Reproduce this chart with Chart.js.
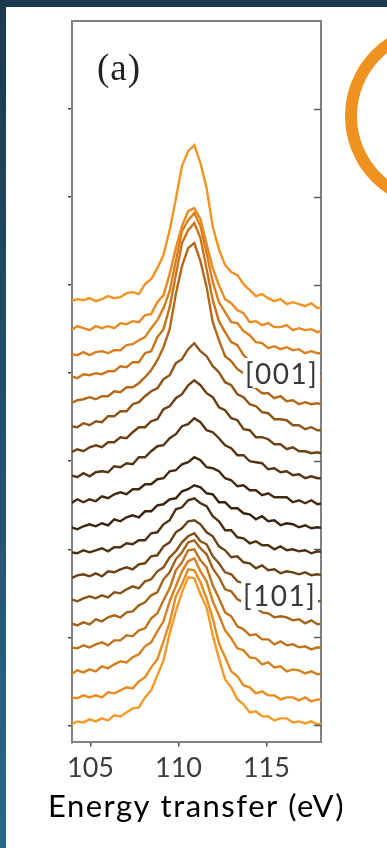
<!DOCTYPE html>
<html><head><meta charset="utf-8">
<script src="https://cdn.jsdelivr.net/npm/chart.js@4.4.1/dist/chart.umd.min.js"></script>
<style>
html,body{margin:0;padding:0;width:387px;height:848px;overflow:hidden;}
body{background:linear-gradient(to bottom,#1b3a4f 0%,#22506c 50%,#2b6689 100%);position:relative;}
#panel{position:absolute;left:6px;top:7px;width:381px;height:841px;background:#fff;}
#c{position:absolute;left:6px;top:7px;}
.lbl{position:absolute;background:#fff;color:#383838;font-family:Lato,sans-serif;font-size:28px;line-height:30px;padding:0 2px;letter-spacing:1.5px;white-space:nowrap;}
#ring{position:absolute;left:345px;top:23px;width:186px;height:186px;box-sizing:border-box;border:12px solid #f0921f;border-radius:50%;}
#pa{position:absolute;left:97px;top:49px;font-family:"Liberation Serif",serif;font-size:37px;line-height:37px;letter-spacing:1px;color:#222;}
</style></head>
<body>
<div id="panel"></div>
<canvas id="c" width="381" height="841"></canvas>
<div id="ring"></div>
<div id="pa">(a)</div>
<div class="lbl" style="left:243px;top:358px;">[001]</div>
<div class="lbl" style="left:241px;top:580px;">[101]</div>
<script>
const energies = [103.9,104.25,104.6,104.95,105.3,105.65,106.0,106.35,106.7,107.05,107.4,107.75,108.1,108.45,108.8,109.15,109.5,109.85,110.2,110.55,110.9,111.25,111.6,111.95,112.3,112.65,113.0,113.35,113.7,114.05,114.4,114.75,115.1,115.45,115.8,116.15,116.5,116.85,117.2,117.55,117.9,118.25];
const xTicks = [105,110,115];
const yTicks = [17,105,193,281,369,457,545,633];

const s01 = [441,443,442,444,441,443,446,444,445,449,450,448,458,463,474,487,512,543,576,591,597,579,554,515,493,477,470,467,458,452,446,448,444,441,443,438,440,438,436,439,434,435];
const s02 = [412,416,414,412,416,414,416,414,419,418,421,420,427,428,440,447,468,494,516,531,534,523,498,474,457,443,439,432,429,420,421,417,419,415,415,417,412,414,412,413,410,412];
const s03 = [388,387,390,387,390,391,389,392,392,397,398,402,405,414,422,434,451,481,511,522,529,516,489,460,440,430,420,419,411,407,400,399,394,396,393,395,392,393,389,391,389,389];
const s04 = [366,364,368,367,369,368,371,371,376,375,380,380,389,391,405,413,435,467,499,512,519,504,473,442,421,410,400,397,387,381,375,375,370,370,365,368,365,367,363,365,362,362];
const s05 = [339,342,343,345,343,346,346,351,350,355,355,359,365,372,382,395,413,448,476,494,499,481,455,420,402,386,381,373,369,356,354,349,349,344,346,341,342,338,340,338,339,337];
const s06 = [316,315,319,317,321,320,326,326,331,331,338,340,346,351,354,363,367,379,383,393,399,391,386,376,370,360,357,348,345,338,336,330,329,323,323,322,317,317,313,315,312,312];
const s07 = [290,293,291,295,297,295,300,300,305,304,310,315,315,321,323,333,336,344,348,357,362,357,349,345,335,332,324,322,313,312,305,305,303,298,298,293,295,291,291,289,290,288];
const s08 = [267,265,269,266,270,271,270,276,275,279,278,285,285,291,296,297,304,308,316,318,324,320,312,310,304,297,294,287,287,281,280,279,273,274,270,271,267,268,264,266,264,264];
const s09 = [239,243,240,243,241,246,244,248,250,248,253,253,258,258,263,264,271,272,278,280,285,282,275,274,271,264,262,256,257,252,252,247,249,245,245,245,240,242,239,242,238,239];
const s10 = [215,213,216,218,216,219,217,223,221,225,227,225,231,231,237,238,243,244,251,253,257,255,249,248,240,240,234,234,229,228,223,226,221,222,217,219,218,215,217,214,215,214];
const s11 = [190,189,192,190,192,194,191,195,195,199,198,202,202,209,210,218,222,233,235,242,244,239,236,226,221,212,212,205,204,199,201,197,197,193,196,192,193,191,192,189,191,190];
const s12 = [164,167,168,166,169,166,171,170,173,175,173,178,179,186,187,196,200,210,214,221,222,218,210,206,196,192,185,186,180,179,174,177,172,173,169,171,170,168,170,167,168,167];
const s13 = [143,141,144,146,144,147,145,150,149,153,156,154,161,163,171,175,185,191,200,206,209,201,198,186,179,170,168,161,159,153,154,153,148,149,145,147,144,146,142,144,141,142];
const s14 = [119,117,120,118,123,121,125,127,125,130,131,137,140,147,150,163,170,183,190,200,202,194,188,174,165,153,151,143,140,134,135,130,129,125,126,125,122,123,119,122,118,119];
const s15 = [95,94,97,95,98,100,97,102,102,107,106,112,114,124,129,142,154,172,180,192,193,182,175,157,144,130,126,116,113,107,108,103,103,98,101,97,98,95,96,93,95,94];
const s16 = [68,72,70,73,71,76,74,78,81,80,85,88,96,100,111,121,141,156,171,181,184,171,161,141,127,112,104,94,92,85,84,78,80,75,76,71,73,72,69,71,68,69];
const s17 = [45,44,47,45,47,45,50,49,52,55,54,61,65,75,83,101,120,146,158,173,172,160,144,124,99,85,71,66,57,55,49,51,47,47,43,45,45,42,45,41,43,42];
const s18 = [18,21,20,23,21,24,22,27,26,30,34,35,45,52,67,82,109,131,150,165,164,148,135,107,84,63,55,43,38,30,31,26,26,22,24,24,20,21,19,21,18,19];

const seriesColors = ['#f59322','#ea8a20','#da7f1d','#c9741a','#b56818','#8f5417','#6e4114','#573412','#45290f','#3a230d','#4d300f','#6a4113','#875217','#a5631a','#c0731c','#d6801e','#e88c20','#f59a26'];

const allSeries = [s01,s02,s03,s04,s05,s06,s07,s08,s09,s10,s11,s12,s13,s14,s15,s16,s17,s18];
const datasets = allSeries.map((arr,i)=>({
  data: arr.map((v,j)=>({x: energies[j], y: v})),
  borderColor: seriesColors[i],
  borderWidth: 2.4,
  pointRadius: 0,
  tension: 0,
  fill: false,
  clip: 0
}));

const titleSpacing = {
  id: 'titleSpacing',
  beforeDraw(chart){ chart.ctx.letterSpacing = '1.5px'; },
  beforeDatasetsDraw(chart){ chart.ctx.letterSpacing = '0px'; }
};

const innerTicks = {
  id: 'innerTicks',
  afterDraw(chart){
    const {ctx, chartArea: a, scales: {y}} = chart;
    ctx.save();
    ctx.strokeStyle = '#555';
    ctx.lineWidth = 1.5;
    yTicks.forEach(v=>{
      const py = Math.round(y.getPixelForValue(v)) + 0.5;
      ctx.beginPath(); ctx.moveTo(a.right-7, py); ctx.lineTo(a.right, py); ctx.stroke();
    });
    ctx.restore();
  }
};

new Chart(document.getElementById('c'), {
  type: 'line',
  data: {datasets},
  options: {
    responsive: false,
    animation: false,
    devicePixelRatio: 1,
    layout: {padding: {left: 0, right: 0, top: 14, bottom: 6}},
    plugins: {
      legend: {display: false},
      tooltip: {enabled: false},
      title: {display: true, position: 'bottom', text: 'Energy transfer (eV)', font: {family: 'Lato', size: 31, weight: 'normal'}, color: '#000', padding: {top: 0, bottom: 16}}
    },
    scales: {
      x: {
        type: 'linear', position: 'bottom', min: 103.95, max: 118.1,
        afterBuildTicks: s => { s.ticks = xTicks.map(v=>({value: v})); },
        afterFit: s => { s.height = 46.4; },
        border: {display: true, color: '#808080', width: 2},
        grid: {display: true, drawOnChartArea: false, drawTicks: true, tickLength: 4, color: '#444', lineWidth: 1.5},
        ticks: {font: {family: 'Lato', size: 27}, color: '#3c3c3c', padding: 6, maxRotation: 0, autoSkip: false, z: 1}
      },
      y: {
        type: 'linear', position: 'left', min: 0, max: 721,
        afterBuildTicks: s => { s.ticks = yTicks.map(v=>({value: v})); },
        afterFit: s => { s.width = 66; },
        border: {display: true, color: '#808080', width: 2},
        grid: {display: true, drawOnChartArea: false, drawTicks: true, tickLength: 4, color: '#444', lineWidth: 1.5},
        ticks: {display: false}
      },
      x2: {
        type: 'linear', position: 'top', min: 103.95, max: 118.1,
        afterFit: s => { s.height = 0; },
        border: {display: true, color: '#808080', width: 2},
        grid: {display: false}, ticks: {display: false}
      },
      y2: {
        type: 'linear', position: 'right', min: 0, max: 721,
        afterFit: s => { s.width = 66; },
        border: {display: true, color: '#808080', width: 2},
        grid: {display: false}, ticks: {display: false}
      }
    }
  },
  plugins: [titleSpacing, innerTicks]
});
</script>
</body></html>
